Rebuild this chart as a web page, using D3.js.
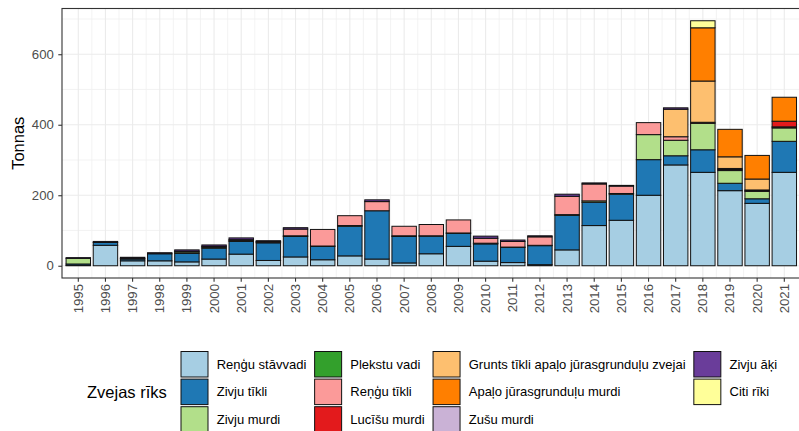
<!DOCTYPE html>
<html>
<head>
<meta charset="utf-8">
<script src="https://cdn.jsdelivr.net/npm/d3@7"></script>
<style>
  html, body { margin: 0; padding: 0; background: #ffffff; }
  svg { display: block; font-family: "Liberation Sans", Arial, sans-serif; }
</style>
</head>
<body>
<svg id="chart" width="799" height="431"></svg>
<script>
// Catch per gear type (tonnes), 1995–2021
const years = [1995, 1996, 1997, 1998, 1999, 2000, 2001, 2002, 2003, 2004, 2005, 2006, 2007, 2008,
               2009, 2010, 2011, 2012, 2013, 2014, 2015, 2016, 2017, 2018, 2019, 2020, 2021];

const gears = ["Reņģu stāvvadi", "Zivju tīkli", "Zivju murdi", "Plekstu vadi", "Reņģu tīkli",
               "Lucīšu murdi", "Grunts tīkli apaļo jūrasgrunduļu zvejai", "Apaļo jūrasgrunduļu murdi",
               "Zušu murdi", "Zivju āķi", "Citi rīki"];

const gearColors = ["#A6CEE3", "#1F78B4", "#B2DF8A", "#33A02C", "#FB9A99", "#E31A1C",
                    "#FDBF6F", "#FF7F00", "#CAB2D6", "#6A3D9A", "#FFFF99"];

const renguStavvadi   = [1, 58, 14, 14, 11, 19, 33, 15, 25, 17, 28, 19, 8, 34, 55, 13, 9, 3, 45, 114, 129, 200, 286, 265, 213, 177, 265];
const zivjuTikli      = [4, 8, 5, 20, 24, 31, 36, 50, 58, 38, 84, 137, 75, 50, 37, 49, 43, 54, 98, 66, 74, 101, 26, 64, 21, 13, 88];
const zivjuMurdi      = [16, 0, 2, 0, 4, 3, 3, 2, 2, 1, 2, 0, 2, 1, 1, 2, 1, 1, 2, 4, 2, 71, 44, 75, 36, 21, 38];
const plekstuVadi     = [0, 0, 0, 0, 0, 0, 0, 0, 0, 0, 0, 0, 0, 0, 0, 0, 0, 0, 0, 0, 0, 0, 0, 0, 0, 0, 0];
const renguTikli      = [0, 0, 0, 0, 2, 2, 2, 2, 19, 47, 28, 26, 27, 32, 37, 14, 16, 24, 52, 48, 21, 34, 10, 3, 3, 2, 3];
const lucisuMurdi     = [0, 0, 0, 0, 0, 0, 0, 0, 0, 0, 0, 0, 0, 0, 0, 0, 0, 0, 0, 0, 0, 0, 0, 0, 3, 2, 16];
const gruntsTikli     = [0, 0, 0, 0, 0, 0, 0, 0, 0, 0, 0, 0, 0, 0, 0, 0, 0, 0, 0, 0, 0, 0, 78, 117, 33, 31, 0];
const grunduluMurdi   = [0, 0, 0, 0, 0, 0, 0, 0, 0, 0, 0, 0, 0, 0, 0, 0, 0, 0, 0, 0, 0, 0, 0, 151, 78, 67, 68];
const zusuMurdi       = [0, 0, 0, 0, 0, 0, 0, 0, 0, 0, 0, 0, 0, 0, 0, 0, 0, 0, 0, 0, 0, 0, 0, 0, 0, 0, 0];
const zivjuAki        = [2, 3, 3, 3, 4, 4, 5, 2, 4, 0, 0, 5, 0, 0, 0, 6, 4, 3, 6, 3, 2, 0, 4, 0, 0, 0, 0];
const citiRiki        = [0, 0, 0, 0, 0, 0, 0, 0, 0, 0, 0, 0, 0, 0, 0, 0, 0, 0, 0, 0, 0, 0, 0, 20, 0, 0, 0];

const yTicks = [0, 200, 400, 600];
const yMinorTicks = [100, 300, 500, 700];

const seriesValues = [renguStavvadi, zivjuTikli, zivjuMurdi, plekstuVadi, renguTikli, lucisuMurdi,
                      gruntsTikli, grunduluMurdi, zusuMurdi, zivjuAki, citiRiki];

// one row per year, one column per gear
const table = years.map((yr, i) => {
  const row = { year: yr };
  gears.forEach((g, k) => { row[g] = seriesValues[k][i]; });
  return row;
});

const svg = d3.select("#chart");
const panel = { left: 62, right: 800.6, top: 8.5, bottom: 278 };

const x = d3.scaleBand()
  .domain(years)
  .range([panel.left, panel.right])
  .paddingInner(0.1)
  .paddingOuter(0.15);

const totals = table.map(r => d3.sum(gears, g => r[g]));
const maxTotal = d3.max(totals);
const pad = maxTotal * 0.05;
const y = d3.scaleLinear()
  .domain([-pad, maxTotal + pad])
  .range([panel.bottom, panel.top]);

const stack = d3.stack().keys(gears);
const layers = stack(table);

// panel background and grid
svg.append("rect")
  .attr("x", panel.left).attr("y", panel.top)
  .attr("width", panel.right - panel.left).attr("height", panel.bottom - panel.top)
  .attr("fill", "#ffffff");

const grid = svg.append("g");
const step = x.step();
// vertical grid between bars
years.slice(0, -1).forEach(yr => {
  const gx = x(yr) + x.bandwidth() / 2 + step / 2;
  grid.append("line").attr("x1", gx).attr("x2", gx)
    .attr("y1", panel.top).attr("y2", panel.bottom)
    .attr("stroke", "#f0f0f0").attr("stroke-width", 0.8);
});
yMinorTicks.forEach(t => {
  grid.append("line").attr("x1", panel.left).attr("x2", panel.right)
    .attr("y1", y(t)).attr("y2", y(t))
    .attr("stroke", "#f0f0f0").attr("stroke-width", 0.8);
});
years.forEach(yr => {
  const gx = x(yr) + x.bandwidth() / 2;
  grid.append("line").attr("x1", gx).attr("x2", gx)
    .attr("y1", panel.top).attr("y2", panel.bottom)
    .attr("stroke", "#ebebeb").attr("stroke-width", 1.1);
});
yTicks.forEach(t => {
  grid.append("line").attr("x1", panel.left).attr("x2", panel.right)
    .attr("y1", y(t)).attr("y2", y(t))
    .attr("stroke", "#ebebeb").attr("stroke-width", 1.1);
});

// stacked bars
const bars = svg.append("g");
layers.forEach((layer, k) => {
  bars.append("g")
    .attr("fill", gearColors[k])
    .selectAll("rect")
    .data(layer.filter(d => d[1] - d[0] > 0))
    .join("rect")
    .attr("x", d => x(d.data.year))
    .attr("width", x.bandwidth())
    .attr("y", d => y(d[1]))
    .attr("height", d => y(d[0]) - y(d[1]))
    .attr("stroke", "#111111")
    .attr("stroke-width", 1);
});

// panel border
svg.append("rect")
  .attr("x", panel.left).attr("y", panel.top)
  .attr("width", panel.right - panel.left).attr("height", panel.bottom - panel.top)
  .attr("fill", "none").attr("stroke", "#333333").attr("stroke-width", 1.1);

// y axis
const yAxis = svg.append("g")
  .attr("transform", `translate(${panel.left},0)`)
  .call(d3.axisLeft(y).tickValues(yTicks).tickSize(3.7).tickPadding(4.5));
yAxis.select(".domain").remove();
yAxis.selectAll(".tick line").attr("stroke", "#333333").attr("stroke-width", 1.1);
yAxis.selectAll(".tick text")
  .attr("fill", "#4d4d4d").attr("font-size", "13.2px")
  .attr("font-family", "Liberation Sans, Arial, sans-serif");

// x axis
const xAxis = svg.append("g")
  .attr("transform", `translate(0,${panel.bottom})`)
  .call(d3.axisBottom(x).tickSize(3.7).tickPadding(0));
xAxis.select(".domain").remove();
xAxis.selectAll(".tick line").attr("stroke", "#333333").attr("stroke-width", 1.1);
xAxis.selectAll(".tick text")
  .attr("fill", "#4d4d4d").attr("font-size", "13.2px")
  .attr("font-family", "Liberation Sans, Arial, sans-serif")
  .attr("text-anchor", "end")
  .attr("dy", null)
  .attr("dominant-baseline", "central")
  .attr("transform", "translate(0,6) rotate(-90)")
  .attr("y", 0).attr("x", 0);

// axis title
svg.append("text")
  .attr("transform", `translate(17.5,${(panel.top + panel.bottom) / 2}) rotate(-90)`)
  .attr("text-anchor", "middle")
  .attr("dominant-baseline", "central")
  .attr("font-size", "16.5px")
  .attr("fill", "#000000")
  .text("Tonnas");

// legend
const legend = svg.append("g");
const keyW = 27, keyH = 25.5, rowPitch = 27.6, rows = 3;
const legendTop = 351.5, legendLeft = 181, labelGap = 8.7, colGap = 8.3;

legend.append("text")
  .attr("x", 87).attr("y", legendTop + rowPitch + keyH / 2)
  .attr("dominant-baseline", "central")
  .attr("font-size", "16.5px")
  .attr("fill", "#000000")
  .text("Zvejas rīks");

let colX = legendLeft;
const ncols = Math.ceil(gears.length / rows);
for (let c = 0; c < ncols; c++) {
  let maxW = 0;
  for (let r = 0; r < rows; r++) {
    const k = c * rows + r;
    if (k >= gears.length) break;
    const ky = legendTop + r * rowPitch;
    legend.append("rect")
      .attr("x", colX).attr("y", ky)
      .attr("width", keyW).attr("height", keyH)
      .attr("fill", gearColors[k])
      .attr("stroke", "#111111").attr("stroke-width", 1);
    const t = legend.append("text")
      .attr("x", colX + keyW + labelGap).attr("y", ky + keyH / 2)
      .attr("dominant-baseline", "central")
      .attr("font-size", "13px")
      .attr("fill", "#000000")
      .text(gears[k]);
    maxW = Math.max(maxW, t.node().getComputedTextLength());
  }
  colX += keyW + labelGap + maxW + colGap;
}
</script>
</body>
</html>
